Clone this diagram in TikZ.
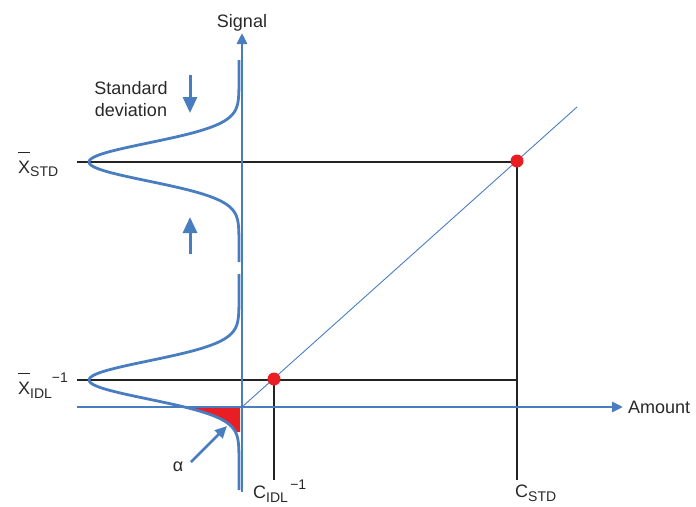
\documentclass[tikz,border=0pt]{standalone}
\usepackage{fontspec}
\setmainfont{Liberation Sans}
\usetikzlibrary{arrows.meta, positioning}

\definecolor{axisblue}{RGB}{72,125,192}
\definecolor{dotred}{RGB}{232,30,36}
\definecolor{guidegray}{RGB}{35,35,35}
\definecolor{textgray}{RGB}{40,40,40}

% X with a raised bar, and small index text
\newcommand{\barX}{\makebox[0pt][l]{\rule[20pt]{12pt}{1.2pt}}X}
\newcommand{\idx}[2]{\raisebox{#1}{\fontsize{14}{14}\selectfont #2}}

\begin{document}
\begin{tikzpicture}[
    x=1pt, y=-1pt,
    lbl/.style={font=\fontsize{18}{22}\selectfont, text=textgray, inner sep=1pt},
    axisline/.style={draw=axisblue, line width=2.8pt, -{Triangle[length=11pt, width=10pt]}},
    guide/.style={draw=guidegray, line width=1.8pt},
    fitline/.style={draw=axisblue, line width=0.9pt},
    curve/.style={draw=axisblue, line width=2.8pt, line join=round},
    sdarrow/.style={draw=axisblue, line width=3pt, -{Triangle[length=16pt, width=14pt]}},
    alphaarrow/.style={draw=axisblue, line width=2.8pt, -{Triangle[length=12pt, width=11pt]}},
    dot/.style={circle, fill=dotred, inner sep=0pt, minimum size=13pt}
]
\useasboundingbox (0,0) rectangle (696,506);

% Points
\coordinate (O)       at (242,407);
\coordinate (ytop)    at (242,33);
\coordinate (ybot)    at (242,492);
\coordinate (xleft)   at (77,407);
\coordinate (xright)  at (623,407);
\coordinate (stdL)    at (77,162);
\coordinate (idlL)    at (77,380);
\coordinate (stdB)    at (517,480);
\coordinate (idlB)    at (274,480);
\coordinate (idlR)    at (517,380);
\coordinate (fitend)  at (577,107);
\coordinate (sdtopA)  at (190,75);
\coordinate (sdtopB)  at (190,113);
\coordinate (sdbotA)  at (190,254);
\coordinate (sdbotB)  at (190,217);
\coordinate (alphatail) at (191,462);
\coordinate (alphatip)  at (227,426);

% Alpha area under the blank curve
\fill[dotred] plot[domain=27:52, samples=30] ({239-150*exp(-(\x*\x)/722)}, {380+\x})
    -- (240,432) -- (240,407) -- cycle;

% Guide lines
\draw[guide] (stdL) -- (517,162) -- (stdB);
\draw[guide] (idlL) -- (idlR) -- (517,407);
\draw[guide] (274,380) -- (idlB);

% Calibration line
\draw[fitline] (O) -- (fitend);

% Signal distributions
\draw[curve] plot[domain=-102:100, samples=120, smooth] ({239-150*exp(-(\x*\x)/722)}, {162+\x});
\draw[curve] plot[domain=-106:110, samples=120, smooth] ({239-150*exp(-(\x*\x)/722)}, {380+\x});

% Axes
\draw[axisline] (xleft) -- (xright);
\draw[axisline] (ybot) -- (ytop);

% Points on the line
\node[dot] (pstd) at (517,161) {};
\node[dot] (pidl) at (274,379) {};

% Standard deviation arrows
\draw[sdarrow] (sdtopA) -- (sdtopB);
\draw[sdarrow] (sdbotA) -- (sdbotB);
\draw[alphaarrow] (alphatail) -- (alphatip);

% Labels
\node[lbl, above=1pt of ytop] (signal) {Signal};
\node[lbl, right=4pt of xright] (amount) {Amount};
\node[lbl, align=center] (sd) at (131,99) {Standard\\deviation};
\node[lbl, anchor=base west] (xstd) at (17,173) {\barX\idx{-3pt}{STD}};
\node[lbl, anchor=base west] (xidl) at (17,394) {\barX\idx{-4pt}{IDL}\idx{12pt}{−1}};
\node[lbl] (alpha) at (178,467) {α};
\node[lbl, anchor=base west] (cidl) at (252,498) {C\idx{-4pt}{IDL}\idx{9pt}{\,−1}};
\node[lbl, anchor=base west] (cstd) at (514,497) {C\idx{-4pt}{STD}};
\end{tikzpicture}
\end{document}
